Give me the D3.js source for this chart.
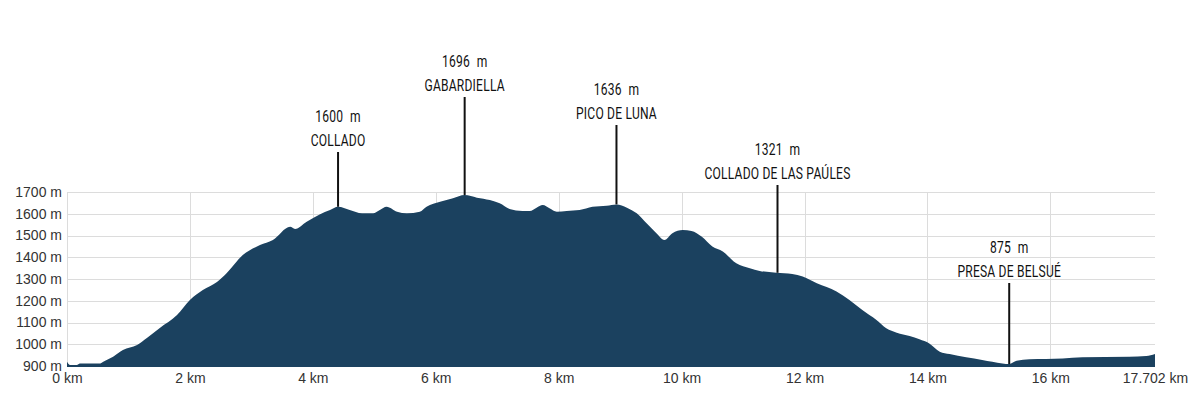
<!DOCTYPE html>
<html>
<head>
<meta charset="utf-8">
<script src="https://cdn.jsdelivr.net/npm/d3@7"></script>
<style>
  html, body { margin: 0; padding: 0; background: #fff; }
  svg { display: block; }
</style>
</head>
<body>
<svg id="chart" width="1200" height="400"></svg>
<script>
// ---- data ----
const distanceKm = [0, 0.05, 0.16, 0.21, 0.54, 0.59, 0.75, 0.91, 1.14, 1.30, 1.51, 1.79, 2.00, 2.21, 2.44, 2.60, 2.86, 3.14, 3.35, 3.63, 3.71, 3.90, 4.11, 4.28, 4.41, 4.60, 4.80, 4.98, 5.09, 5.20, 5.37, 5.53, 5.74, 5.85, 6.07, 6.28, 6.47, 6.67, 6.88, 7.04, 7.20, 7.41, 7.53, 7.64, 7.74, 7.85, 7.97, 8.13, 8.34, 8.55, 8.78, 8.94, 9.11, 9.27, 9.43, 9.59, 9.72, 9.85, 10.02, 10.16, 10.33, 10.50, 10.67, 10.89, 11.11, 11.27, 11.54, 11.80, 11.97, 12.20, 12.52, 12.73, 12.94, 13.17, 13.33, 13.50, 13.71, 13.87, 14.03, 14.20, 14.36, 14.63, 14.89, 15.22, 15.33, 15.45, 15.66, 16.20, 16.52, 17.28, 17.56, 17.702];
const elevationM = [920, 905, 905, 912, 912, 920, 943, 974, 997, 1029, 1075, 1134, 1203, 1249, 1286, 1328, 1410, 1456, 1479, 1540, 1530, 1563, 1597, 1617, 1632, 1617, 1602, 1602, 1617, 1632, 1609, 1602, 1609, 1632, 1655, 1671, 1686, 1674, 1663, 1648, 1622, 1613, 1613, 1628, 1640, 1625, 1609, 1613, 1617, 1632, 1637, 1643, 1628, 1602, 1556, 1510, 1479, 1510, 1525, 1521, 1494, 1449, 1426, 1372, 1349, 1337, 1329, 1323, 1311, 1280, 1242, 1203, 1157, 1111, 1073, 1053, 1038, 1023, 1004, 966, 955, 940, 928, 912, 909, 924, 931, 935, 940, 943, 946, 955];

const yTicks = [900, 1000, 1100, 1200, 1300, 1400, 1500, 1600, 1700];
const xTicks = [0, 2, 4, 6, 8, 10, 12, 14, 16, 17.702];

const poiNames = ["COLLADO", "GABARDIELLA", "PICO DE LUNA", "COLLADO DE LAS PAÚLES", "PRESA DE BELSUÉ"];
const poiElevation = [1600, 1696, 1636, 1321, 875];
const poiKm = [4.41, 6.47, 8.94, 11.56, 15.33];

// ---- layout ----
const svg = d3.select("#chart");
const mLeft = 67, mRight = 1155, mTop = 192, mBottom = 366;
const stemTopY = [152, 97, 125, 185, 283];
const labelSqueeze = 0.71;

const x = d3.scaleLinear().domain([0, 17.702]).range([mLeft, mRight]);
const y = d3.scaleLinear().domain([900, 1700]).range([mBottom, mTop]);

const data = distanceKm.map((d, i) => ({ km: d, e: elevationM[i] }));
const interp = km => {
  const i = d3.bisector(d => d.km).right(data, km);
  if (i <= 0) return data[0].e;
  if (i >= data.length) return data[data.length - 1].e;
  const a = data[i - 1], b = data[i];
  return a.e + (b.e - a.e) * (km - a.km) / (b.km - a.km);
};

// grid
const grid = svg.append("g");
grid.selectAll("line.h").data(yTicks).join("line")
  .attr("x1", mLeft).attr("x2", mRight)
  .attr("y1", d => Math.round(y(d)) + 0.5).attr("y2", d => Math.round(y(d)) + 0.5)
  .attr("stroke", "#dcdcdc").attr("stroke-width", 1);
grid.selectAll("line.v").data(xTicks.slice(0, -1)).join("line")
  .attr("x1", d => Math.round(x(d)) + 0.5).attr("x2", d => Math.round(x(d)) + 0.5)
  .attr("y1", mTop).attr("y2", mBottom)
  .attr("stroke", "#dcdcdc").attr("stroke-width", 1);

// area
const area = d3.area().curve(d3.curveMonotoneX)
  .x(d => x(d.km)).y0(mBottom + 1).y1(d => Math.min(y(d.e), mBottom + 1));
svg.append("path").datum(data).attr("d", area).attr("fill", "#1b415f");

// axes labels
const yAxis = d3.axisLeft(y).tickValues(yTicks).tickSize(0).tickPadding(5).tickFormat(d => d + " m");
const ya = svg.append("g").attr("transform", `translate(${mLeft},0)`).call(yAxis);
ya.select(".domain").remove();
ya.selectAll("text").attr("font-family", "Liberation Sans, Arial, sans-serif").attr("font-size", 14).attr("fill", "#333");

const xAxis = d3.axisBottom(x).tickValues(xTicks).tickSize(0).tickPadding(7)
  .tickFormat(d => (d === 17.702 ? "17.702" : d) + " km");
const xa = svg.append("g").attr("transform", `translate(0,${mBottom})`).call(xAxis);
xa.select(".domain").remove();
xa.selectAll("text").attr("font-family", "Liberation Sans, Arial, sans-serif").attr("font-size", 14).attr("fill", "#333");

// annotations
const ann = svg.append("g");
const labelFont = "Roboto, 'DejaVu Sans Condensed', sans-serif";
poiNames.forEach((name, i) => {
  const px = x(poiKm[i]);
  const py = y(interp(poiKm[i]));
  const t = stemTopY[i];
  ann.append("line").attr("x1", px).attr("x2", px).attr("y1", t).attr("y2", py)
    .attr("stroke", "#111").attr("stroke-width", 2);
  [[name, t - 12, 0], [poiElevation[i] + " m", t - 36, 5]].forEach(([txt, ty, ws]) => {
    ann.append("text")
      .attr("transform", `translate(${px},${ty}) scale(${labelSqueeze},1)`)
      .attr("dy", "0.35em").attr("text-anchor", "middle")
      .attr("font-family", labelFont).attr("font-weight", 400)
      .attr("font-size", 17).attr("letter-spacing", 0.3).attr("word-spacing", ws)
      .attr("fill", "#111").text(txt);
  });
});
</script>
</body>
</html>
